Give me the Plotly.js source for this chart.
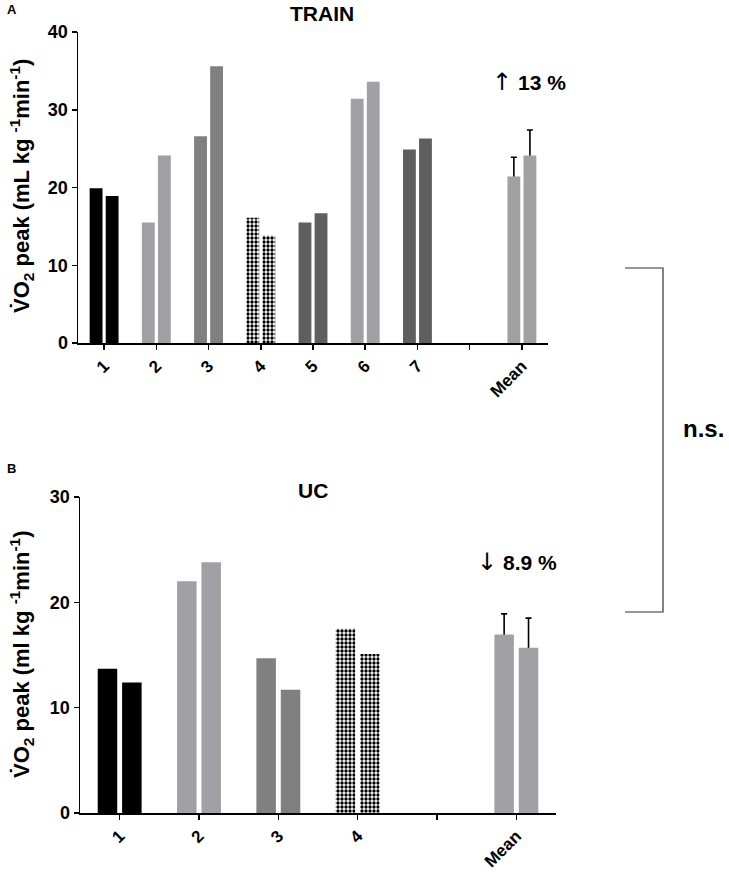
<!DOCTYPE html>
<html>
<head>
<meta charset="utf-8">
<script src="https://cdn.plot.ly/plotly-3.0.1.min.js"></script>
<style>html,body{margin:0;padding:0;background:#fff;}#chart{width:729px;height:872px;}</style>
</head>
<body>
<div id="chart"></div>
<script>
// ---- Data ----
const trainSubjects = ["1","2","3","4","5","6","7"];
const trainPre  = [19.9, 15.5, 26.6, 16.1, 15.5, 31.4, 24.9];
const trainPost = [18.9, 24.1, 35.6, 13.8, 16.7, 33.6, 26.3];
const trainMeanLabel = ["Mean"];
const trainMeanPre  = [21.4];
const trainMeanPost = [24.1];
const trainSdPre  = [2.5];
const trainSdPost = [3.3];

const ucSubjects = ["1","2","3","4"];
const ucPre  = [13.7, 22.0, 14.7, 17.5];
const ucPost = [12.4, 23.8, 11.7, 15.1];
const ucMeanLabel = ["Mean"];
const ucMeanPre  = [16.95];
const ucMeanPost = [15.7];
const ucSdPre  = [1.95];
const ucSdPost = [2.8];

const spacer = " ";
const trainChange = {arrow: "↑", text: "13 %"};
const ucChange = {arrow: "↓", text: "8.9 %"};

// ---- Styles ----
const BLACK = "#000000", LIGHT = "#a1a1a5", MID = "#808080", DARK = "#5f5f5f";
const trainColors = [BLACK, LIGHT, MID, BLACK, DARK, LIGHT, DARK];
const trainPattern = ["", "", "", ".", "", "", ""];
const ucColors = [BLACK, LIGHT, MID, BLACK];
const ucPattern = ["", "", "", "."];

const FONT = "Arial, 'Liberation Sans', sans-serif";

function subjTrace(x, y, colors, pattern, group, xa, ya) {
  return {
    type: "bar", x: x.concat([spacer]), y: y.concat([null]), xaxis: xa, yaxis: ya, offsetgroup: group,
    marker: {color: colors, line: {width: 0},
             pattern: {shape: pattern, bgcolor: "#ffffff", size: 4, solidity: 0.55, fillmode: "replace"}},
    showlegend: false, hoverinfo: "skip"
  };
}
// transparent copy carrying the error bar, drawn underneath the mean bar
function errTrace(x, y, sd, group, xa, ya) {
  return {
    type: "bar", x: x, y: y, xaxis: xa, yaxis: ya, offsetgroup: group,
    marker: {color: "rgba(0,0,0,0)", line: {width: 0}},
    error_y: {type: "data", array: sd, color: "#000", thickness: 1.6, width: 3},
    showlegend: false, hoverinfo: "skip"
  };
}
function meanTrace(x, y, group, xa, ya) {
  return {
    type: "bar", x: x, y: y, xaxis: xa, yaxis: ya, offsetgroup: group,
    marker: {color: LIGHT, line: {width: 0}},
    showlegend: false, hoverinfo: "skip"
  };
}

const data = [
  errTrace(trainMeanLabel, trainMeanPre, trainSdPre, "pre", "x", "y"),
  errTrace(trainMeanLabel, trainMeanPost, trainSdPost, "post", "x", "y"),
  subjTrace(trainSubjects, trainPre, trainColors, trainPattern, "pre", "x", "y"),
  subjTrace(trainSubjects, trainPost, trainColors, trainPattern, "post", "x", "y"),
  meanTrace(trainMeanLabel, trainMeanPre, "pre", "x", "y"),
  meanTrace(trainMeanLabel, trainMeanPost, "post", "x", "y"),

  errTrace(ucMeanLabel, ucMeanPre, ucSdPre, "pre", "x2", "y2"),
  errTrace(ucMeanLabel, ucMeanPost, ucSdPost, "post", "x2", "y2"),
  subjTrace(ucSubjects, ucPre, ucColors, ucPattern, "pre", "x2", "y2"),
  subjTrace(ucSubjects, ucPost, ucColors, ucPattern, "post", "x2", "y2"),
  meanTrace(ucMeanLabel, ucMeanPre, "pre", "x2", "y2"),
  meanTrace(ucMeanLabel, ucMeanPost, "post", "x2", "y2")
];

const axisCommon = {
  showgrid: false, zeroline: false, showline: true, linecolor: "#000", linewidth: 1.5,
  ticks: "outside", tickcolor: "#000", tickwidth: 1.5, ticklen: 5,
  tickfont: {family: FONT, size: 18, color: "#000", weight: "bold"}
};
const xTickFont = {family: FONT, size: 17, color: "#000", weight: "bold"};

const W = 729, H = 872;
const px = v => v / W, py = v => 1 - v / H;

function note(text, x, y, size, angle) {
  return {text: text, x: px(x), y: py(y), xref: "paper", yref: "paper", showarrow: false,
          xanchor: "center", yanchor: "middle", textangle: angle || 0,
          font: {family: FONT, size: size, color: "#000"}};
}
function change(c) {
  return "<span style='font-family:\"DejaVu Sans\";font-size:24px;color:#000'>" + c.arrow + "</span> <b>" + c.text + "</b>";
}

const trainCats = trainSubjects.concat([spacer], trainMeanLabel);
const ucCats = ucSubjects.concat([spacer], ucMeanLabel);

const layout = {
  width: W, height: H,
  margin: {l: 0, r: 0, t: 0, b: 0},
  paper_bgcolor: "#fff", plot_bgcolor: "#fff",
  barmode: "group", bargap: 0.385, bargroupgap: 0.2,
  font: {family: FONT, size: 18, color: "#000"},
  xaxis: Object.assign({}, axisCommon, {domain: [px(78), px(548)], anchor: "y", type: "category", tickfont: xTickFont,
                        categoryorder: "array", categoryarray: trainCats, tickangle: -45, range: [-0.5, trainCats.length - 0.5]}),
  yaxis: Object.assign({}, axisCommon, {domain: [py(343), py(32)], anchor: "x", range: [0, 40], dtick: 10}),
  xaxis2: Object.assign({}, axisCommon, {domain: [px(80), px(556)], anchor: "y2", type: "category", tickfont: xTickFont,
                         categoryorder: "array", categoryarray: ucCats, tickangle: -45, range: [-0.5, ucCats.length - 0.5]}),
  yaxis2: Object.assign({}, axisCommon, {domain: [py(813), py(497)], anchor: "x2", range: [0, 30], dtick: 10}),
  annotations: [
    note("<b>A</b>", 12, 10, 13),
    note("<b>TRAIN</b>", 322, 14, 21),
    note(change(trainChange), 529, 82, 21),
    note("<b>V̇O<sub>2</sub> peak (mL kg <sup>-1</sup>min<sup>-1</sup>)</b>", 21, 186, 22, -90),
    note("<b>n.s.</b>", 703, 428, 24),
    note("<b>B</b>", 11, 468, 13),
    note("<b>UC</b>", 313, 490, 21),
    note(change(ucChange), 517, 562, 21),
    note("<b>V̇O<sub>2</sub> peak (ml kg <sup>-1</sup>min<sup>-1</sup>)</b>", 21, 655, 22, -90)
  ],
  shapes: [
    {type: "path", xref: "paper", yref: "paper",
     path: "M " + px(625) + " " + py(268) + " L " + px(663) + " " + py(268) + " L " + px(663) + " " + py(612) + " L " + px(625) + " " + py(612),
     line: {color: "#333", width: 1.2}}
  ]
};

Plotly.newPlot("chart", data, layout, {staticPlot: true, displayModeBar: false});
</script>
</body>
</html>
